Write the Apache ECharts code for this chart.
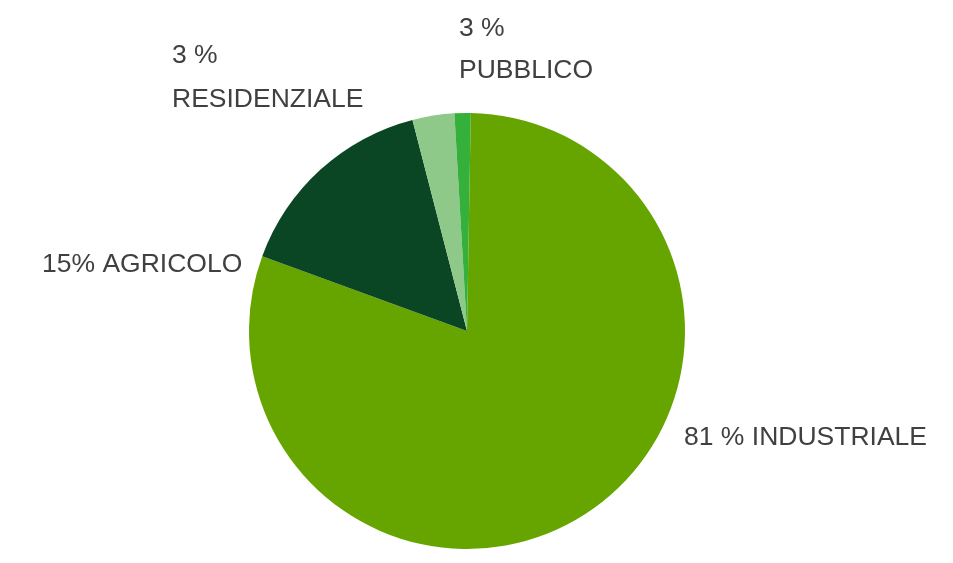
<!DOCTYPE html>
<html>
<head>
<meta charset="utf-8">
<script src="https://cdn.jsdelivr.net/npm/echarts@6/dist/echarts.min.js"></script>
<style>
html,body{margin:0;padding:0;background:#fff;}
#chart{width:953px;height:563px;}
</style>
</head>
<body>
<div id="chart"></div>
<script>
// Data (clockwise from 12 o'clock)
const categories = ['INDUSTRIALE', 'AGRICOLO', 'RESIDENZIALE', 'PUBBLICO'];
const values = [80.3, 15.4, 3.1, 1.2];
const labelTexts = ['81 % INDUSTRIALE', '15% AGRICOLO', '3 %\nRESIDENZIALE', '3 %\nPUBBLICO'];
const colors = ['#66a500', '#0a4524', '#8fc98a', '#35b03a'];

const labelPos = [
  { x: 684, y: 438, lh: 42 },
  { x: 42, y: 265, lh: 42 },
  { x: 172, y: 78, lh: 44 },
  { x: 459, y: 50, lh: 42 }
];

const chart = echarts.init(document.getElementById('chart'), null, { renderer: 'canvas' });
chart.setOption({
  animation: false,
  backgroundColor: '#ffffff',
  series: [{
    type: 'pie',
    center: [467, 331],
    radius: [0, 218],
    startAngle: 89,
    clockwise: true,
    avoidLabelOverlap: false,
    data: categories.map((c, i) => ({
      name: c,
      value: values[i],
      itemStyle: { color: colors[i] },
      label: { formatter: labelTexts[i], lineHeight: labelPos[i].lh }
    })),
    itemStyle: { borderWidth: 0 },
    label: {
      show: true,
      position: 'outside',
      color: '#404040',
      fontFamily: '"Liberation Sans", Arial, Helvetica, sans-serif',
      fontSize: 26.5,
      lineHeight: 42
    },
    labelLine: { show: false },
    labelLayout: function (params) {
      const p = labelPos[params.dataIndex];
      return { x: p.x, y: p.y, align: 'left', verticalAlign: 'middle', hideOverlap: false };
    },
    emphasis: { disabled: true }
  }]
});
</script>
</body>
</html>
